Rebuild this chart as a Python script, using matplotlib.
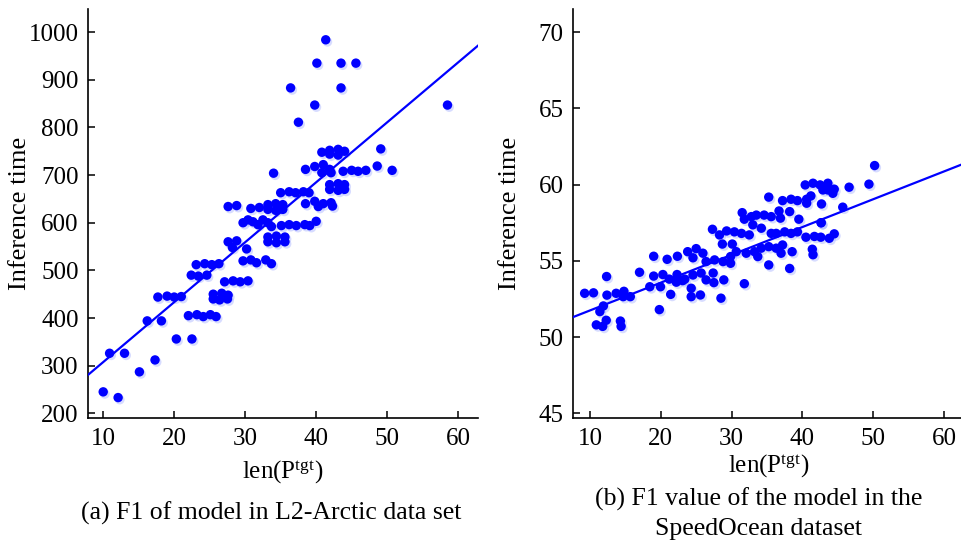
import matplotlib
matplotlib.use("Agg")
import matplotlib.pyplot as plt
import matplotlib.transforms as mtransforms
import numpy as np

plt.rcParams['font.family'] = ['Liberation Serif', 'DejaVu Serif']
plt.rcParams['mathtext.fontset'] = 'custom'
plt.rcParams['mathtext.rm'] = 'Liberation Serif'
plt.rcParams['mathtext.it'] = 'Liberation Serif:italic'

# ---------------- data: panel (a) L2-Arctic ----------------
a_x = [10.0, 12.1, 10.9, 13.0, 15.1, 17.3, 16.2, 18.2, 20.3, 22.5, 17.7, 19.0, 20.0, 21.0,
       22.0, 23.2, 24.1, 25.1, 25.9, 22.4, 23.4, 24.6, 23.1, 24.3, 25.3, 26.3, 25.5, 26.7,
       27.6, 25.5, 26.4, 27.5, 27.1, 28.3, 29.3, 30.4, 27.6, 28.8, 28.2, 30.2, 29.7, 30.8,
       31.6, 32.9, 33.7, 29.7, 30.4, 31.1, 31.8, 32.5, 33.2, 33.7, 35.1, 36.2, 37.2, 38.4,
       39.1, 40.0, 33.2, 34.4, 35.6, 33.2, 34.4, 35.6, 27.6, 28.8, 30.8, 32.0, 33.2, 34.3,
       35.3, 33.2, 34.3, 35.3, 35.0, 36.2, 37.1, 38.2, 39.0, 38.5, 39.8, 41.0, 42.1, 42.3,
       40.3, 34.0, 38.5, 39.8, 41.0, 41.9, 40.8, 42.1, 43.8, 45.0, 45.9, 47.0, 48.6, 50.7,
       49.1, 40.8, 41.9, 43.1, 44.0, 41.9, 43.1, 41.9, 43.1, 44.0, 41.9, 43.1, 44.0, 37.5,
       39.8, 58.5, 36.4, 43.5, 40.1, 43.5, 45.6, 41.35]
a_y = [245, 233, 326, 326, 287, 312, 394, 394, 356, 356, 444, 446, 444, 445,
       405, 407, 403, 407, 403, 490, 488, 490, 512, 514, 512, 514, 450, 452,
       448, 440, 438, 440, 476, 478, 476, 478, 560, 562, 548, 545, 520, 522,
       516, 522, 514, 600, 606, 602, 596, 606, 600, 592, 594, 596, 594, 596,
       594, 603, 570, 572, 570, 560, 558, 560, 634, 636, 630, 632, 638, 640,
       638, 628, 626, 628, 663, 665, 663, 665, 663, 640, 645, 640, 642, 635,
       634, 704, 712, 718, 722, 712, 705, 705, 708, 710, 708, 710, 719, 710,
       755, 748, 752, 754, 750, 744, 742, 680, 682, 680, 670, 668, 670, 811,
       847, 847, 883, 883, 935, 935, 935, 984]
a_fit = (12.58, 181.7)   # slope, intercept

# ---------------- data: panel (b) SpeedOcean ----------------
b_x = [9.25, 10.5, 12.35, 12.4, 13.7, 14.8, 15.7, 14.7, 11.9, 11.4, 10.9, 11.8, 12.3, 14.3,
       14.4, 17.0, 19.0, 20.9, 22.35, 18.45, 19.96, 21.4, 19.8, 19.0, 20.3, 21.2, 22.3, 23.4,
       22.2, 23.1, 23.8, 25.0, 25.95, 24.55, 24.55, 25.7, 26.4, 27.5, 27.4, 24.3, 24.3, 25.6,
       28.9, 28.5, 31.8, 26.4, 27.6, 28.8, 29.86, 29.86, 27.3, 28.3, 29.3, 30.4, 31.4, 28.7,
       30.1, 32.5, 31.5, 31.8, 32.8, 33.5, 34.6, 35.6, 36.7, 36.9, 38.2, 33.0, 34.2, 35.25,
       37.2, 38.4, 39.3, 40.6, 40.6, 41.2, 42.7, 39.5, 42.65, 40.4, 41.5, 42.5, 43.6, 44.5,
       43.6, 42.9, 44.3, 45.7, 46.6, 49.4, 50.2, 30.66, 32.07, 33.24, 34.18, 35.25, 36.3,
       37.2, 36.99, 33.7, 35.25, 35.6, 36.3, 37.5, 38.4, 39.3, 40.5, 41.7, 42.6, 43.8,
       44.5, 38.2, 38.55, 41.4, 41.5, 42.65]
b_y = [52.87, 52.9, 53.97, 52.75, 52.87, 53.0, 52.65, 52.65, 52.04, 51.67, 50.8, 50.7, 51.1, 51.05,
       50.7, 54.25, 55.3, 55.1, 55.3, 53.3, 53.3, 52.8, 51.8, 54.0, 54.1, 53.8, 54.1, 53.8,
       53.6, 53.7, 55.6, 55.8, 55.5, 55.2, 54.07, 54.2, 53.75, 53.57, 54.2, 53.2, 52.65, 52.76,
       53.75, 52.55, 53.5, 54.95, 55.06, 54.95, 54.84, 55.28, 57.07, 56.7, 56.96, 56.9, 56.8, 56.1,
       56.1, 56.7, 58.16, 57.73, 57.9, 58.0, 58.0, 57.9, 58.27, 57.8, 58.23, 57.36, 57.14, 59.18,
       58.95, 59.04, 58.95, 59.04, 58.78, 59.26, 58.73, 57.73, 57.5, 59.98, 60.09, 59.98, 60.09, 59.7,
       59.65, 59.65, 59.43, 58.52, 59.83, 60.03, 61.25, 55.6, 55.5, 55.6, 55.83, 55.93, 55.83,
       56.04, 55.5, 55.28, 54.73, 56.8, 56.8, 56.9, 56.8, 56.9, 56.55, 56.6, 56.55, 56.48,
       56.77, 54.5, 55.6, 55.76, 55.4, 57.5]
b_fit = (0.1824, 49.92)

x_ticks = [10, 20, 30, 40, 50, 60]
a_yticks = [200, 300, 400, 500, 600, 700, 800, 900, 1000]
b_yticks = [45, 50, 55, 60, 65, 70]

xlabel = 'len(P$^{\\mathrm{tgt}}$)'
ylabel = 'Inference time'
cap_a = '(a) F1 of model in L2-Arctic data set'
cap_b = '(b) F1 value of the model in the\nSpeedOcean dataset'

W, H = 962, 541
fig = plt.figure(figsize=(W / 100, H / 100), dpi=100)

AX_BOTTOM, AX_TOP = 418.3, 9.3
ax1_l, ax1_r = 88.3, 478.0
ax2_l, ax2_r = 573.3, 961.0
ax1 = fig.add_axes([ax1_l / W, 1 - AX_BOTTOM / H, (ax1_r - ax1_l) / W, (AX_BOTTOM - AX_TOP) / H])
ax2 = fig.add_axes([ax2_l / W, 1 - AX_BOTTOM / H, (ax2_r - ax2_l) / W, (AX_BOTTOM - AX_TOP) / H])

blue = '#0000FF'
axh = AX_BOTTOM - AX_TOP

def draw(ax, xs, ys, fit, xlim, ylim, yticks, left, right, ylab_x, xlab_x, xlab_base):
    xs = np.asarray(xs); ys = np.asarray(ys)
    shadow = ax.transData + mtransforms.ScaledTranslation(1.2 / 72, -1.5 / 72, fig.dpi_scale_trans)
    ax.scatter(xs, ys, s=48, color='#8f9cff', alpha=0.35, edgecolors='none',
               transform=shadow, zorder=2)
    ax.scatter(xs, ys, s=46, color=blue, edgecolors='none', zorder=3)
    lx = np.array(xlim)
    ax.plot(lx, fit[0] * lx + fit[1], color=blue, lw=1.6, zorder=4)
    ax.set_xlim(*xlim); ax.set_ylim(*ylim)
    ax.set_xticks(x_ticks); ax.set_yticks(yticks)
    for s in ['top', 'right']:
        ax.spines[s].set_visible(False)
    for s in ['left', 'bottom']:
        ax.spines[s].set_linewidth(1.2)
        ax.spines[s].set_color('black')
    ax.tick_params(direction='in', length=5, width=1.1, labelsize=18, pad=7, colors='black')
    ax.set_xlabel(xlabel, fontsize=18, va='baseline')
    ax.xaxis.set_label_coords((xlab_x - left) / (right - left), (AX_BOTTOM - xlab_base) / axh)
    ax.set_ylabel(ylabel, fontsize=19, va='center')
    ax.yaxis.set_label_coords((ylab_x - left) / (right - left), 0.5)

draw(ax1, a_x, a_y, a_fit, (7.9, 62.8), (189.5, 1048), a_yticks, ax1_l, ax1_r, 20, 283, 479)
draw(ax2, b_x, b_y, b_fit, (7.65, 62.4), (44.67, 71.5), b_yticks, ax2_l, ax2_r, 510, 769, 473)

fig.text(271 / W, 1 - 520 / H, cap_a, ha='center', va='baseline', fontsize=18.5)
for i, line in enumerate(cap_b.split('\n')):
    fig.text(759 / W, 1 - (506 + 29 * i) / H, line, ha='center', va='baseline', fontsize=18.5)

fig.savefig('out.png', dpi=100)
